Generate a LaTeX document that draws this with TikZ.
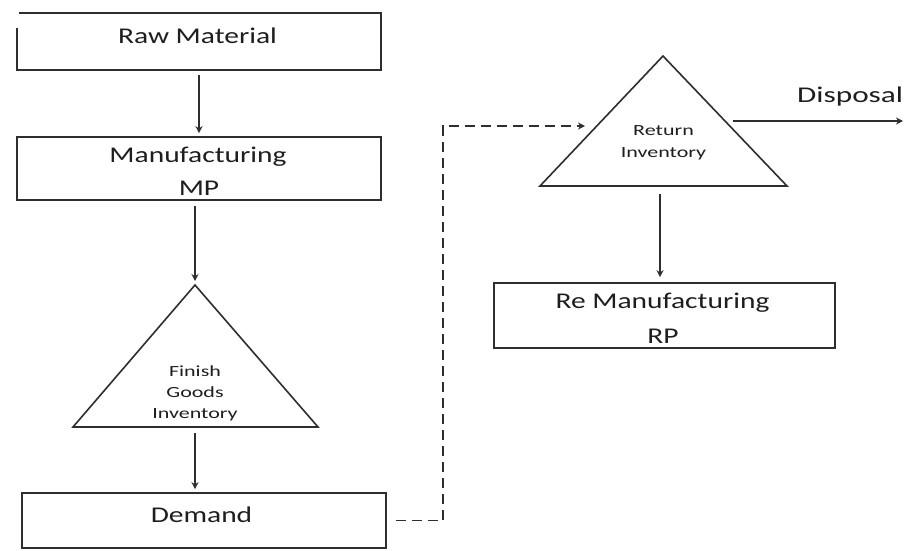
\documentclass[tikz,border=0pt]{standalone}
\usepackage{fontspec}
\setmainfont{Carlito}
\usetikzlibrary{arrows.meta}
\definecolor{ink}{HTML}{2E2E2E}
\definecolor{txt}{HTML}{1E1E1E}
\newcommand{\wt}[1]{\scalebox{1.31}[1]{#1}}
\newcommand{\ws}[1]{\scalebox{1.42}[1]{#1}}
\begin{document}
\begin{tikzpicture}[x=1pt,y=-1pt,
  box/.style={draw=ink, line width=1.6pt, inner sep=0pt},
  bigtxt/.style={anchor=base, inner sep=0pt, text=txt, font=\fontsize{22.5}{27}\selectfont},
  smalltxt/.style={anchor=base, inner sep=0pt, text=txt, font=\fontsize{15.5}{19}\selectfont},
  tri/.style={draw=ink, line width=1.6pt, line join=miter},
  flow/.style={draw=ink, line width=1.5pt, -{Stealth[length=7pt,width=7pt]}},
  dashflow/.style={flow, dash pattern=on 10pt off 6pt}]
\useasboundingbox (0,0) rectangle (905,550);
\fill[white] (0,0) rectangle (905,550);

% boxes
\node[inner sep=0pt, minimum width=364pt, minimum height=57pt] (raw) at (199,41.5) {};
\draw[draw=ink, line width=1.6pt] (17,28) -- (17,70) -- (381,70) -- (381,13) -- (19,13);
\node[box, minimum width=364pt, minimum height=63pt] (manuf) at (199,168.5) {};
\node[box, minimum width=364pt, minimum height=55pt] (demand) at (204,520.5) {};
\node[box, minimum width=341pt, minimum height=65pt] (reman) at (664.5,315.5) {};

% triangles
\coordinate (fa) at (195,285);
\coordinate (fb) at (195,427);
\draw[tri] (fa) -- (318,427) -- (73,427) -- cycle;
\coordinate (ra) at (663,56);
\coordinate (rb) at (660,186);
\coordinate (rl) at (593,126);
\coordinate (rr) at (725,121);
\draw[tri] (ra) -- (787,186) -- (540,186) -- cycle;

% texts
\node[bigtxt] (t1) at (197.5,43) {\wt{Raw Material}};
\node[bigtxt] (t2) at (198,162) {\wt{Manufacturing}};
\node[bigtxt] (t3) at (199,195) {\wt{MP}};
\node[bigtxt] (t4) at (201.5,522) {\wt{Demand}};
\node[bigtxt] (t5) at (662.5,308) {\wt{Re Manufacturing}};
\node[bigtxt] (t6) at (663,343) {\wt{RP}};
\node[bigtxt, anchor=base west] (t7) at (797,102) {\scalebox{1.39}[1]{Disposal}};
\node[smalltxt] (s1) at (195,376) {\ws{Finish}};
\node[smalltxt] (s2) at (195,397) {\ws{Goods}};
\node[smalltxt] (s3) at (195,418) {\ws{Inventory}};
\node[smalltxt] (s4) at (663.5,135) {\ws{Return}};
\node[smalltxt] (s5) at (663.5,157) {\ws{Inventory}};

% connectors
\coordinate (d2) at (443,126);
\coordinate (dend) at (903,121);
\draw[flow, shorten <=5pt, shorten >=3pt] (raw.south) -- (manuf.north);
\draw[flow, shorten <=5pt, shorten >=4pt] (manuf.south -| fa) -- (fa);
\draw[flow, shorten <=6pt, shorten >=3pt] (fb) -- (fb |- demand.north);
\draw[dashflow, shorten >=8pt] ([xshift=9pt]demand.east) -| (d2) -- (rl);
\draw[flow, shorten <=8pt] (rr) -- (dend);
\draw[flow, shorten <=8pt, shorten >=5pt] (rb) -- (rb |- reman.north);
\end{tikzpicture}
\end{document}
